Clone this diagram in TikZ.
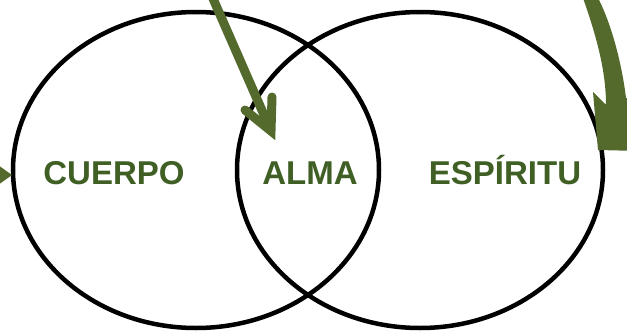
\documentclass[tikz,border=0pt]{standalone}
\usepackage{fontspec}
\setmainfont{Liberation Sans}
\usetikzlibrary{shapes.geometric}
\definecolor{txtgreen}{HTML}{3F5F24}
\definecolor{arrgreen}{HTML}{536A2C}
\begin{document}
\begin{tikzpicture}[x=1pt,y=-1pt,
  ring/.style={ellipse, draw=black, line width=4.5pt, minimum width=366pt, minimum height=316pt, inner sep=0pt},
  lbl/.style={font=\bfseries\fontsize{33}{33}\selectfont, text=txtgreen, anchor=base, inner sep=0pt},
  arrline/.style={draw=arrgreen, line width=9pt}]
\useasboundingbox (0,0) rectangle (627,335);
\clip (0,0) rectangle (627,335);
\node[ring] (leftc) at (196,170) {};
\node[ring] (rightc) at (420,170) {};
\node[lbl] (cuerpo) at (114,184) {CUERPO};
\node[lbl] (alma) at (310,184) {ALMA};
\node[lbl] (espiritu) at (505,184) {ESPÍRITU};
% left arrow tip
\coordinate (lefttip) at (12,175);
\fill[arrgreen] (-2,165) -- (lefttip) -- (-2,185) -- cycle;
% middle arrow
\coordinate (mstart) at (211,-6);
\coordinate (mtip) at (271,131);
\draw[arrline, shorten >=6pt] (mstart) -- (mtip);
\draw[arrline, line cap=round, line join=miter] (245,110) -- (mtip) -- (272,97);
% right curved arrow
\coordinate (rtip) at (598,150);
\fill[arrgreen] (583,-2) .. controls (596,35) and (606,70) .. (606,105)
  -- (593,92) -- (rtip) -- (640,151) -- (640,100) -- (626,98)
  .. controls (622,65) and (612,25) .. (598,-2) -- cycle;
\end{tikzpicture}
\end{document}
